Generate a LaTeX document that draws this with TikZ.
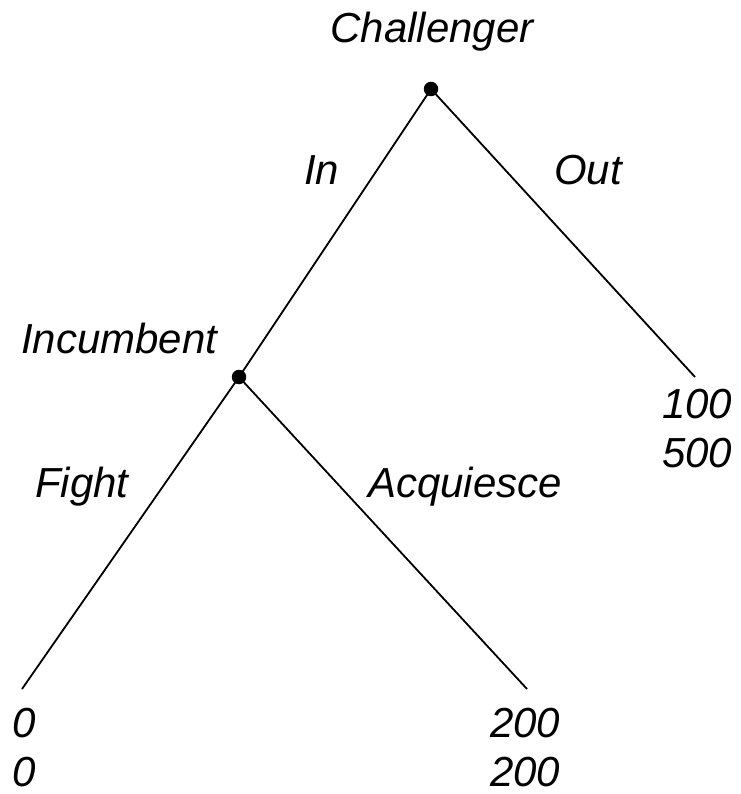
\documentclass[tikz,border=0pt]{standalone}
\usepackage{fontspec}
\setmainfont{Liberation Sans}
\begin{document}
\begin{tikzpicture}[x=1pt,y=-1pt,
  dot/.style={circle,fill=black,inner sep=0pt,minimum size=14.5pt},
  branch/.style={line width=1.8pt},
  lbl/.style={inner sep=0pt,anchor=base west,font=\fontsize{42}{48}\selectfont\itshape}]
\useasboundingbox (0,0) rectangle (740,794);
\node[dot] (c) at (431,89) {};
\node[dot] (i) at (239,377) {};
\coordinate (out) at (695,377);
\coordinate (fight) at (22,689);
\coordinate (acq) at (527,689);
\draw[branch] (c.center) -- (i.center);
\draw[branch] (c.center) -- (out);
\draw[branch] (i.center) -- (fight);
\draw[branch] (i.center) -- (acq);
\node[lbl,anchor=base] (tc) at (432,43) {Challenger};
\node[lbl] (ti) at (21,353) {Incumbent};
\node[lbl] (tin) at (304,185) {In};
\node[lbl] (tout) at (554,185) {Out};
\node[lbl] (tf) at (35,497) {Fight};
\node[lbl] (ta) at (368,497) {Acquiesce};
\node[lbl] (p1a) at (662,418) {100};
\node[lbl] (p1b) at (662,467) {500};
\node[lbl] (p2a) at (12,737) {0};
\node[lbl] (p2b) at (12,786) {0};
\node[lbl] (p3a) at (490,737) {200};
\node[lbl] (p3b) at (490,786) {200};
\end{tikzpicture}
\end{document}
